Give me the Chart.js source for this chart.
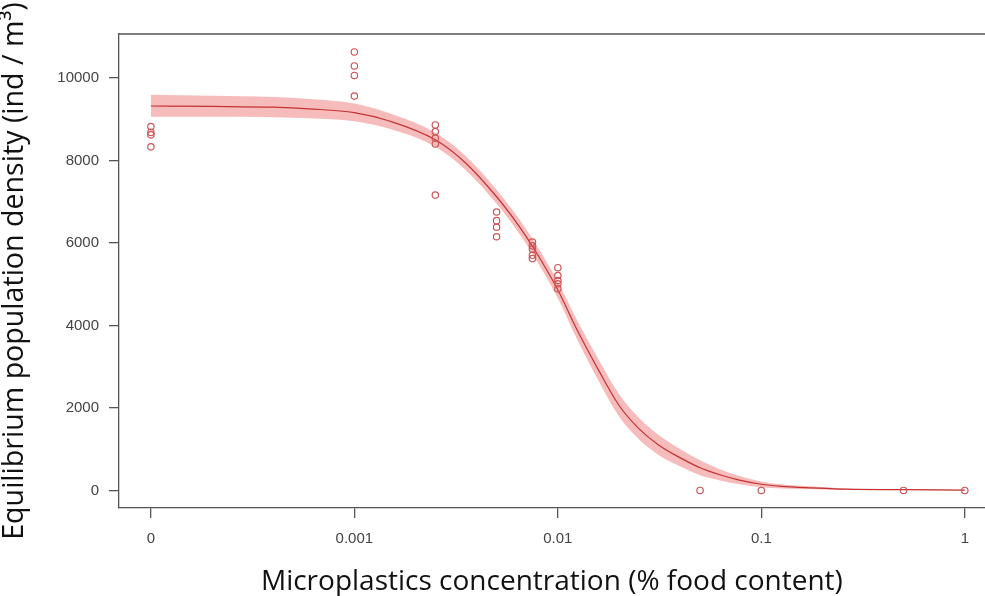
<!DOCTYPE html>
<html>
<head>
<meta charset="utf-8">
<script src="https://cdn.jsdelivr.net/npm/chart.js@4/dist/chart.umd.min.js"></script>
<style>
  html, body { margin: 0; padding: 0; background: #fff; }
  #wrap { width: 985px; height: 596px; position: relative; overflow: hidden; }
  /* plot box runs off the right edge in the original, like R's clipped frame */
  #inner { width: 990px; height: 596px; position: relative; }
</style>
</head>
<body>
<div id="wrap"><div id="inner"><canvas id="chart"></canvas></div></div>
<script>
// observed replicates (the "0" treatment sits at 1e-4 on the log axis)
const obsX = [
  0.0001, 0.0001, 0.0001, 0.0001,
  0.001, 0.001, 0.001, 0.001,
  0.0025, 0.0025, 0.0025, 0.0025, 0.0025,
  0.005, 0.005, 0.005, 0.005,
  0.0075, 0.0075, 0.0075, 0.0075, 0.0075,
  0.01, 0.01, 0.01, 0.01, 0.01,
  0.05, 0.1, 0.5, 1
];
const obsY = [
  8820, 8680, 8620, 8330,
  10630, 10290, 10060, 9560,
  8860, 8700, 8540, 8400, 7160,
  6750, 6540, 6380, 6150,
  6020, 5930, 5850, 5700, 5620,
  5400, 5210, 5090, 5010, 4890,
  0, 0, 0, 0
];

// fitted curve with its confidence band
const fitX = [0.0001, 0.0002, 0.0004, 0.0006, 0.001, 0.0015, 0.0025, 0.0035, 0.005, 0.006,
  0.0075, 0.01, 0.0125, 0.016, 0.02, 0.025, 0.0315, 0.04, 0.05, 0.062, 0.078, 0.1, 0.125,
  0.18, 0.26, 0.5, 1];
const fitY = [9320, 9310, 9290, 9250, 9160, 8950, 8500, 7950, 7120, 6620,
  5920, 4860, 3870, 2880, 2060, 1500, 1090, 790, 550, 386, 250, 150, 100,
  62, 32, 20, 8];
const bandLow = [9060, 9060, 9050, 9020, 8950, 8760, 8330, 7780, 6950, 6450,
  5740, 4660, 3640, 2620, 1790, 1240, 850, 580, 370, 250, 150, 80, 50,
  30, 15, 12, 5];
const bandHigh = [9590, 9570, 9540, 9490, 9380, 9140, 8670, 8120, 7290, 6790,
  6100, 5060, 4100, 3140, 2330, 1760, 1330, 1000, 730, 520, 350, 220, 150,
  95, 50, 28, 11];

const xTickValues = [0.0001, 0.001, 0.01, 0.1, 1];
const xTickLabels = ["0", "0.001", "0.01", "0.1", "1"];
const yTickValues = [0, 2000, 4000, 6000, 8000, 10000];
const yTickLabels = ["0", "2000", "4000", "6000", "8000", "10000"];

function pairs(xs, ys) {
  return xs.map((x, i) => ({ x: x, y: ys[i] }));
}

const axisColor = "#555";
const tickFamily = "'Liberation Sans', Arial, sans-serif";

// R-style box: top edge (left and bottom come from the axes)
const topBorder = {
  id: "topBorder",
  afterDraw(chart) {
    const { ctx, chartArea } = chart;
    ctx.save();
    ctx.strokeStyle = axisColor;
    ctx.lineWidth = 1.3;
    ctx.beginPath();
    ctx.moveTo(chartArea.left, chartArea.top);
    ctx.lineTo(chart.width, chartArea.top);
    ctx.stroke();
    ctx.restore();
  }
};

new Chart(document.getElementById("chart"), {
  type: "scatter",
  data: {
    datasets: [
      {
        label: "observed",
        data: pairs(obsX, obsY),
        pointRadius: 3.2,
        pointBorderWidth: 1.2,
        pointBackgroundColor: "rgba(0,0,0,0)",
        pointBorderColor: "rgb(205,85,85)",
      },
      {
        label: "fit",
        data: pairs(fitX, fitY),
        showLine: true,
        pointRadius: 0,
        borderColor: "rgb(195,50,50)",
        borderWidth: 1.2,
        cubicInterpolationMode: "monotone",
      },
      {
        label: "upper",
        data: pairs(fitX, bandHigh),
        showLine: true,
        pointRadius: 0,
        borderWidth: 0,
        borderColor: "rgba(0,0,0,0)",
        backgroundColor: "rgb(246,188,188)",
        fill: "+1",
        cubicInterpolationMode: "monotone",
      },
      {
        label: "lower",
        data: pairs(fitX, bandLow),
        showLine: true,
        pointRadius: 0,
        borderWidth: 0,
        borderColor: "rgba(0,0,0,0)",
        fill: false,
        cubicInterpolationMode: "monotone",
      },
    ],
  },
  options: {
    responsive: true,
    maintainAspectRatio: false,
    animation: false,
    layout: { padding: { top: 34, left: 0, right: 0, bottom: 0 } },
    plugins: {
      legend: { display: false },
      tooltip: { enabled: false },
    },
    scales: {
      x: {
        type: "logarithmic",
        bounds: "data",
        min: 0.0000697,
        max: 1.254,
        afterBuildTicks: (scale) => {
          scale.ticks = xTickValues.map((v) => ({ value: v }));
        },
        afterFit: (scale) => {
          scale.height = 88;
        },
        ticks: {
          autoSkip: false,
          maxRotation: 0,
          padding: 0,
          color: "#444",
          // tall line box pushes the labels down like R's axis spacing
          font: { family: tickFamily, size: 15, lineHeight: 2.8 },
          callback: (value, index) => xTickLabels[index],
        },
        grid: { drawOnChartArea: false, drawTicks: true, tickLength: 10, color: axisColor, lineWidth: 1.3 },
        border: { display: true, color: axisColor, width: 1.3 },
        title: {
          display: true,
          text: "Microplastics concentration (% food content)",
          color: "#111",
          font: { family: "'Open Sans', sans-serif", size: 28, lineHeight: 1.0 },
          padding: { top: 0, bottom: 0 },
        },
      },
      y: {
        type: "linear",
        bounds: "data",
        min: -425,
        max: 11065,
        afterBuildTicks: (scale) => {
          scale.ticks = yTickValues.map((v) => ({ value: v }));
        },
        afterFit: (scale) => {
          scale.width = 119;
        },
        ticks: {
          padding: 10,
          color: "#444",
          font: { family: tickFamily, size: 15 },
          callback: (value, index) => yTickLabels[index],
        },
        grid: { drawOnChartArea: false, drawTicks: true, tickLength: 10, color: axisColor, lineWidth: 1.3 },
        border: { display: true, color: axisColor, width: 1.3 },
        title: {
          display: true,
          text: "Equilibrium population density (ind / m³)",
          color: "#111",
          font: { family: "'Open Sans', sans-serif", size: 28.6, lineHeight: 1.06 },
          padding: { top: 0, bottom: 0 },
        },
      },
    },
  },
  plugins: [topBorder],
});
</script>
</body>
</html>
